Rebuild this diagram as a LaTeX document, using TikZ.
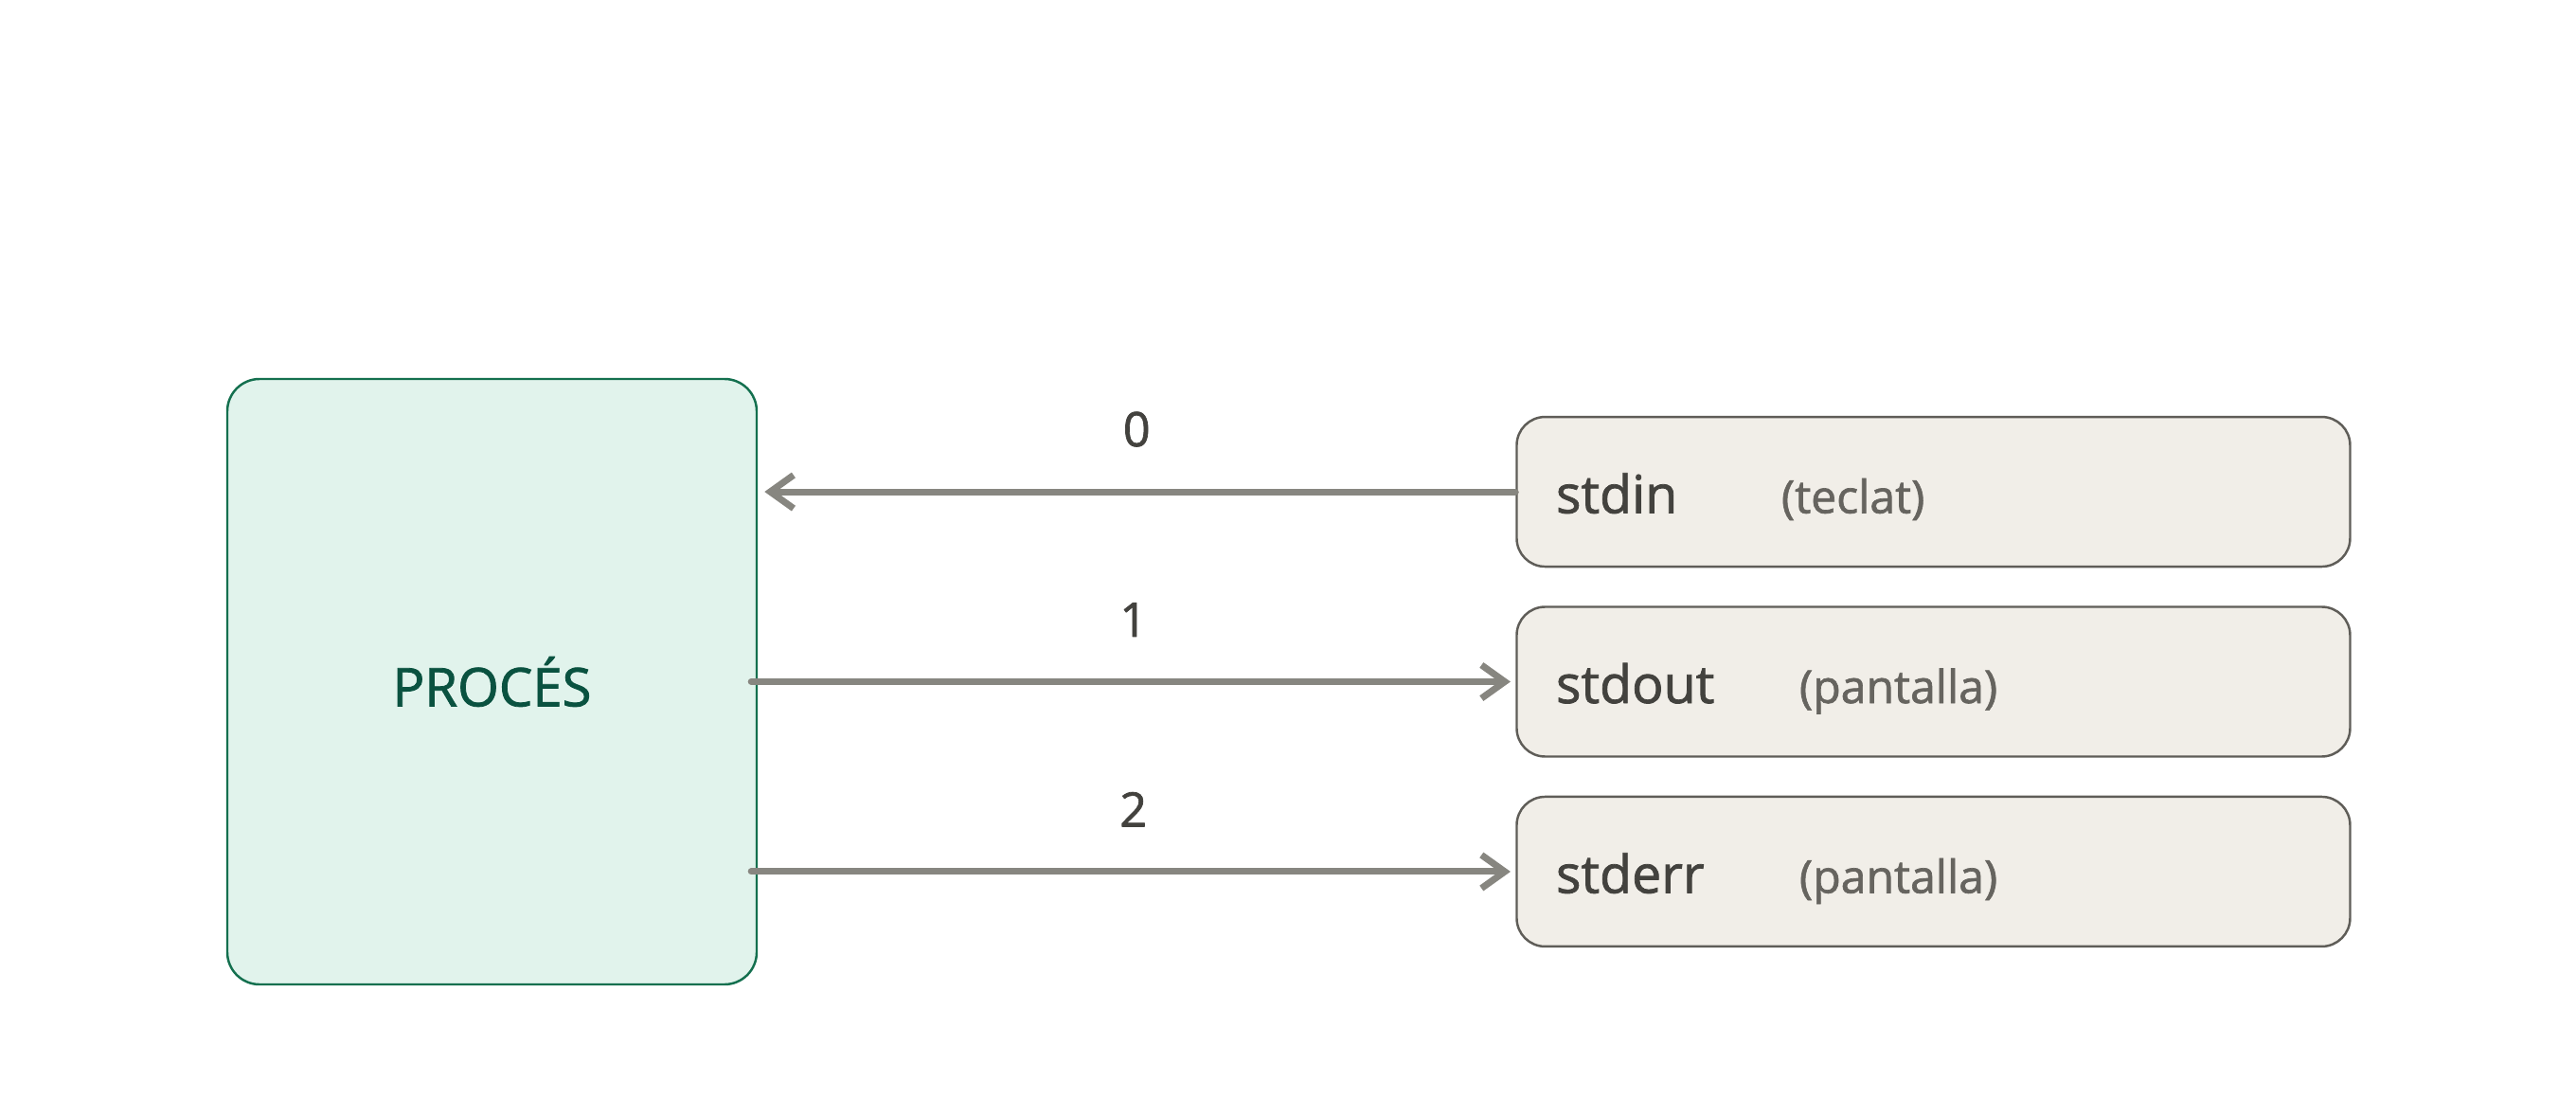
\documentclass[tikz,border=0pt]{standalone}
\usepackage{fontspec}
\setmainfont{Open Sans}[FakeBold=1.4]
\usepackage{tikz}
\usetikzlibrary{positioning,arrows.meta}
\usepackage{xcolor}
\definecolor{procfill}{HTML}{E1F3EC}
\definecolor{procline}{HTML}{14704F}
\definecolor{proctext}{HTML}{0A5240}
\definecolor{fdfill}{HTML}{F1EEE8}
\definecolor{fdline}{HTML}{5F5D58}
\definecolor{fdtext}{HTML}{43423E}
\definecolor{fdnote}{HTML}{66645F}
\definecolor{arrowgray}{HTML}{878680}

\begin{document}
\begin{tikzpicture}[>={Straight Barb[length=7pt,width=10pt]},node distance=4mm and 8cm]
\useasboundingbox (0,0) rectangle (27.2,11.6);
\tikzset{
  procbox/.style={draw=procline,fill=procfill,line width=0.7pt,rounded corners=3.4mm,
    minimum width=5.59cm,minimum height=6.39cm,text=proctext,font=\fontsize{16}{19}\selectfont},
  fdbox/.style={draw=fdline,fill=fdfill,line width=0.7pt,rounded corners=3mm,
    minimum width=8.8cm,minimum height=1.58cm,inner sep=0pt},
  fdname/.style={anchor=base west,inner sep=0pt,text=fdtext,font=\fontsize{15.8}{18}\selectfont},
  fdnote/.style={anchor=base west,inner sep=0pt,text=fdnote,font=\fontsize{13.7}{16}\selectfont},
  fdnum/.style={midway,above=4.4mm,inner sep=0pt,text=fdtext,font=\fontsize{14.3}{17}\selectfont},
  fdarrow/.style={->,draw=arrowgray,line width=2pt,line cap=round,line join=round}
}
\node[procbox] (proc) at (5.195,4.405) {PROCÉS};
\node[fdbox] (stdout) [right=of proc] {};
\node[fdbox] (stdin) [above=of stdout] {};
\node[fdbox] (stderr) [below=of stdout] {};
% noms i dispositius
\node[fdname] (nin) at ([shift={(0.42,-0.225)}]stdin.west) {stdin};
\node[fdnote] (din) at ([shift={(2.8,-0.225)}]stdin.west) {(teclat)};
\node[fdname] (nout) at ([shift={(0.42,-0.225)}]stdout.west) {stdout};
\node[fdnote] (dout) at ([shift={(2.99,-0.225)}]stdout.west) {(pantalla)};
\node[fdname] (nerr) at ([shift={(0.42,-0.225)}]stderr.west) {stderr};
\node[fdnote] (derr) at ([shift={(2.99,-0.225)}]stderr.west) {(pantalla)};
% descriptors
\draw[fdarrow,shorten >=2pt] (stdin.west) -- (proc.east |- stdin.west) node[fdnum]{0};
\draw[fdarrow,shorten >=1.5pt] ([xshift=-2pt]proc.east) -- (stdout.west) node[fdnum]{1};
\draw[fdarrow,shorten >=1.5pt] ([xshift=-2pt]proc.east |- stderr.west) -- (stderr.west) node[fdnum]{2};
\end{tikzpicture}
\end{document}
